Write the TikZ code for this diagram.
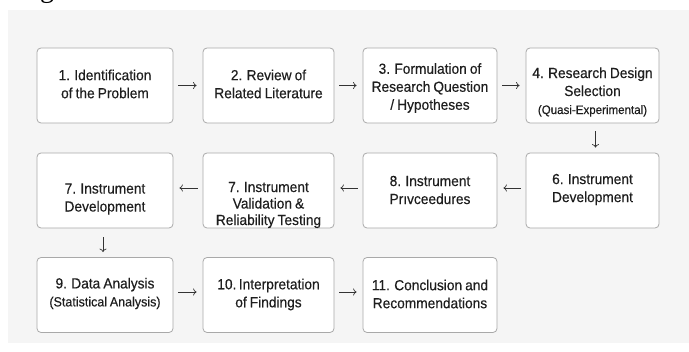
\documentclass[tikz,border=0pt]{standalone}
\usepackage{fontspec}
\setmainfont{Liberation Sans}[FakeStretch=0.94, WordSpace=0.8, FakeBold=0.35]
\newfontfamily\capfont{Liberation Serif}
\usetikzlibrary{arrows.meta}
\definecolor{bggray}{HTML}{F5F5F5}
\definecolor{boxline}{HTML}{A9A9A9}
\definecolor{txtcol}{HTML}{1E1E1E}
\definecolor{arrcol}{HTML}{333333}
\tikzset{
  stepbox/.style={draw=boxline, line width=0.8pt, fill=white, rounded corners=4pt, inner sep=0pt, minimum height=75pt},
  steptxt/.style={text=txtcol, align=center, font=\fontsize{14.6}{18}\selectfont, inner sep=0pt},
  flow/.style={draw=arrcol, line width=0.7pt, -{To[length=3.5pt,width=7pt]}, shorten <=5pt, shorten >=6pt}
}
\begin{document}
\begin{tikzpicture}[x=1pt,y=-1pt]
\useasboundingbox (0,0) rectangle (689,352);
\fill[white] (0,0) rectangle (689,352);
\fill[bggray] (8,10) rectangle (689,343);
\begin{scope}
  \clip (0,0) rectangle (689,10);
  \node[font=\capfont\fontsize{28}{30}\selectfont, anchor=base, text=black, inner sep=0pt] (capg) at (47,-2) {g};
\end{scope}
% row 1
\node[stepbox, minimum width=136pt] (b1) at (105,85.5) {};
\node[stepbox, minimum width=131pt] (b2) at (268.5,85.5) {};
\node[stepbox, minimum width=134pt] (b3) at (430,85.5) {};
\node[stepbox, minimum width=133pt] (b4) at (592.5,85.5) {};
% row 2
\node[stepbox, minimum width=136pt] (b7a) at (105,190.5) {};
\node[stepbox, minimum width=131pt] (b7b) at (268.5,190.5) {};
\node[stepbox, minimum width=134pt] (b8) at (430,190.5) {};
\node[stepbox, minimum width=133pt] (b6) at (592.5,190.5) {};
% row 3
\node[stepbox, minimum width=136pt] (b9) at (105,295) {};
\node[stepbox, minimum width=131pt] (b10) at (268.5,295) {};
\node[stepbox, minimum width=134pt] (b11) at (430,295) {};
% texts
\node[steptxt] (t1) at (105,84) {1. Identification\\of the Problem};
\node[steptxt] (t2) at (268.5,84) {2. Review of\\Related Literature};
\node[steptxt] (t3) at (430,88) {3. Formulation of\\Research Question\\/ Hypotheses};
\node[steptxt] (t4) at (592.5,92) {4. Research Design\\Selection\\{\fontsize{12.3}{15}\selectfont(Quasi-Experimental)}};
\node[steptxt] (t7a) at (105,199) {7. Instrument\\Development};
\node[steptxt, font=\fontsize{14.6}{16.5}\selectfont] (t7b) at (268.5,205) {7. Instrument\\Validation \&\\Reliability Testing};
\node[steptxt] (t8) at (430,190) {8. Instrument\\Prıvceedures};
\node[steptxt] (t6) at (592.5,189.5) {6. Instrument\\Development};
\node[steptxt] (t9) at (105,293.5) {9. Data Analysis\\{\fontsize{13.3}{17}\selectfont(Statistical Analysis)}};
\node[steptxt] (t10) at (268.5,294.5) {10.\,Interpretation\\of Findings};
\node[steptxt] (t11) at (430,294) {11. Conclusion and\\Recommendations};
% connectors
\draw[flow] (b1.east) -- (b2.west);
\draw[flow] (b2.east) -- (b3.west);
\draw[flow] (b3.east) -- (b4.west);
\draw[flow, shorten <=8pt, shorten >=5pt] ([xshift=3pt]b4.south) -- ([xshift=3pt]b6.north);
\draw[flow] ([yshift=2.5pt]b6.west) -- ([yshift=2.5pt]b8.east);
\draw[flow] ([yshift=2.5pt]b8.west) -- ([yshift=2.5pt]b7b.east);
\draw[flow] ([yshift=2.5pt]b7b.west) -- ([yshift=2.5pt]b7a.east);
\draw[flow, shorten <=9pt, shorten >=5pt] ([xshift=-2pt]b7a.south) -- ([xshift=-2pt]b9.north);
\draw[flow] ([yshift=3pt]b9.east) -- ([yshift=3pt]b10.west);
\draw[flow] ([yshift=3pt]b10.east) -- ([yshift=3pt]b11.west);
\end{tikzpicture}
\end{document}
